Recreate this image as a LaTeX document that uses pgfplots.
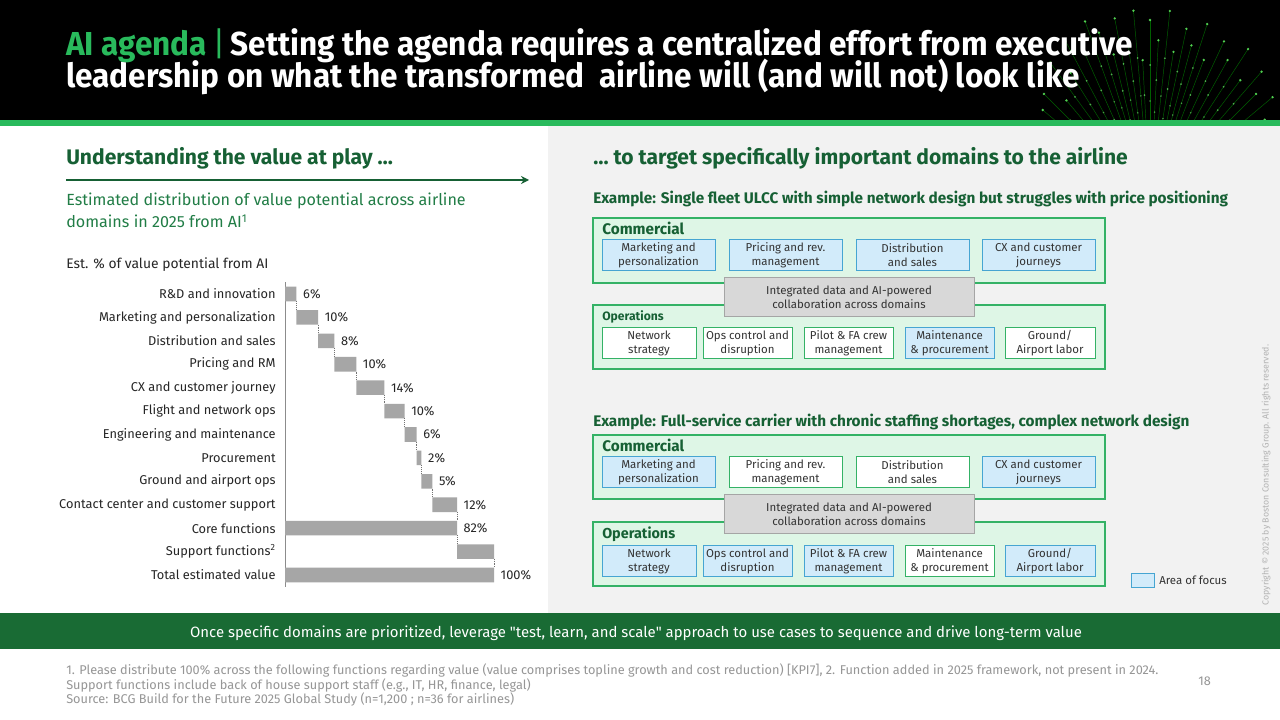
\documentclass[border=0pt]{standalone}
\usepackage{fontspec}
\setmainfont{Fira Sans}
\newfontfamily\titlefont[FakeStretch=0.95]{Fira Sans}
\newfontfamily\nomapfont[Ligatures=TeXOff]{Fira Sans}
\usepackage{pgfplots}
\pgfplotsset{compat=1.18}
\usetikzlibrary{arrows.meta,calc}
\definecolor{dkgreen}{RGB}{22,96,52}
\definecolor{brgreen}{RGB}{41,186,92}
\definecolor{midgreen}{RGB}{33,125,70}
\definecolor{banner}{RGB}{25,107,52}
\definecolor{panelgray}{RGB}{242,242,242}
\definecolor{mint}{RGB}{222,246,230}
\definecolor{mintline}{RGB}{52,178,102}
\definecolor{ltblue}{RGB}{210,235,250}
\definecolor{blueline}{RGB}{70,165,210}
\definecolor{boxgray}{RGB}{216,216,216}
\definecolor{boxgrayline}{RGB}{165,165,165}
\definecolor{bargray}{RGB}{166,166,166}
\definecolor{foot}{RGB}{150,150,150}
\newcommand\fs[2]{\fontsize{#1}{#2}\selectfont}
\newcommand\bx[6]{%
  \draw[#5] (#1,#2) rectangle (#3,#4);
  \node[align=center, font=\fs{8.6}{10.5}, text=black!80, inner sep=0] at ({(#1+#3)/2},{(#2+#4)/2+0.5}) {#6};}
\tikzset{focus/.style={fill=ltblue, draw=blueline, line width=0.6pt},
         plain/.style={fill=white, draw=mintline, line width=0.6pt},
         group/.style={fill=mint, draw=mintline, line width=0.8pt},
         integ/.style={fill=boxgray, draw=boxgrayline, line width=0.6pt}}
\begin{document}
\begin{tikzpicture}[x=0.75pt,y=-0.75pt]
\useasboundingbox (0,0) rectangle (1280,720);
\fill[white] (0,0) rectangle (1280,720);
\fill[black] (0,0) rectangle (1280,121);
% decorative fibre fan
\begin{scope}
\clip (950,0) rectangle (1280,121);
\foreach \t/\r in {-66/120,-62/110,-58/130,-55/120,-50/140,-45/150,-40/130,-36/170,-32/150,-28/180,-24/160,-20/190,-17/175,-14/150,-11/185,-8/160,-5/190,-3/140,0/180,3/160,6/190,9/150,12/175,15/160,18/185,21/150,25/175,29/160,33/180,37/150,41/170,45/150,50/160,55/140,60/130,66/120} {
  \draw[green!50!black, opacity=0.75, line width=0.35pt] (1150,200) -- ++({\r*sin(\t)},{-\r*cos(\t)});
  \fill[green!60!white, opacity=0.8] ($(1150,200)+({\r*sin(\t)},{-\r*cos(\t)})$) circle (1.3);
  \fill[green!50!white, opacity=0.6] ($(1150,200)+({0.75*\r*sin(\t)},{-0.75*\r*cos(\t)})$) circle (1);
  \fill[green!50!white, opacity=0.5] ($(1150,200)+({0.55*\r*sin(\t)},{-0.55*\r*cos(\t)})$) circle (0.9);
}
\end{scope}
\fill[brgreen] (0,120) rectangle (1280,126);
\fill[panelgray] (548,126) rectangle (1280,613);
\fill[banner] (0,613) rectangle (1280,649);
% title
\node[anchor=base west, inner sep=0, font=\titlefont\fs{24.9}{27}\bfseries, text=white] at (66,56)
  {\textcolor{brgreen}{AI agenda}\,\textcolor{brgreen}{\mdseries|}\,Setting the agenda requires a centralized effort from executive};
\node[anchor=base west, inner sep=0, font=\titlefont\fs{24.9}{27}\bfseries, text=white] at (66,88)
  {leadership on what the transformed\ \ airline will (and will not) look like};
% left panel
\node[anchor=base west, inner sep=0, font=\fs{15.8}{18}\bfseries, text=dkgreen] at (66,165) {Understanding the value at play \ldots};
\draw[dkgreen, line width=1.4pt, -{Stealth[length=6pt,width=6pt]}] (66,180) -- (529,180);
\node[anchor=base west, inner sep=0, font=\fs{12.1}{14}, text=midgreen] at (66,206) {Estimated distribution of value potential across airline};
\node[anchor=base west, inner sep=0, font=\fs{12.1}{14}, text=midgreen] at (66,228) {domains in 2025 from AI\textsuperscript{1}};
\node[anchor=base west, inner sep=0, font=\fs{10.4}{12}, text=black!85] at (66,268) {Est. \% of value potential from AI};
% waterfall
\coordinate (chartpos) at (285,282.3);
\begin{axis}[at={(chartpos)}, anchor=north west, scale only axis,
  width=156.75pt, height=228.3pt, xmin=0, xmax=100, ymin=-0.5, ymax=12.5,
  y dir=reverse, xbar stacked, bar width=10.9pt,
  axis x line=none, axis y line=left, y axis line style={-, draw=black!45, line width=0.5pt},
  ytick={0,...,12}, major tick length=0pt,
  yticklabels={R\&D and innovation, Marketing and personalization, Distribution and sales, Pricing and RM, CX and customer journey, Flight and network ops, Engineering and maintenance, Procurement, Ground and airport ops, Contact center and customer support, Core functions, Support functions\textsuperscript{2}, Total estimated value},
  yticklabel style={font=\fs{9.6}{11}, text=black!85, xshift=-3.5pt},
  clip=false]
\addplot[draw=none, fill=none, forget plot] coordinates {(0,0) (5.5,1) (15.9,2) (23.6,3) (34.1,4) (47.6,5) (57.2,6) (63.0,7) (65.3,8) (70.5,9) (0,10) (82.3,11) (0,12)};
\addplot[fill=bargray, draw=none]
  coordinates {(5.5,0) (10.4,1) (7.7,2) (10.5,3) (13.5,4) (9.6,5) (5.8,6) (2.3,7) (5.2,8) (11.8,9) (82.3,10) (17.7,11) (100,12)};
\end{axis}
\begin{axis}[at={(chartpos)}, anchor=north west, scale only axis,
  width=156.75pt, height=228.3pt, xmin=0, xmax=100, ymin=-0.5, ymax=12.5,
  y dir=reverse, hide axis, unbounded coords=jump, clip=false]
\addplot[black!55, densely dotted, line width=0.4pt] coordinates {
 (5.5,0.31) (5.5,0.69) (nan,nan) (15.9,1.31) (15.9,1.69) (nan,nan) (23.6,2.31) (23.6,2.69) (nan,nan)
 (34.1,3.31) (34.1,3.69) (nan,nan) (47.6,4.31) (47.6,4.69) (nan,nan) (57.2,5.31) (57.2,5.69) (nan,nan)
 (63.0,6.31) (63.0,6.69) (nan,nan) (65.3,7.31) (65.3,7.69) (nan,nan) (70.5,8.31) (70.5,8.69) (nan,nan)
 (82.3,9.31) (82.3,9.69) (nan,nan) (82.3,10.31) (82.3,10.69) (nan,nan) (100,11.31) (100,11.69)};
% value labels at the end of each bar
\addplot[draw=none, mark=none, point meta=explicit symbolic, nodes near coords,
  nodes near coords style={font=\fs{9.6}{11}, text=black!85, anchor=west, xshift=1.5pt}]
  coordinates {(5.5,0) [6\%] (15.9,1) [10\%] (23.6,2) [8\%] (34.1,3) [10\%] (47.6,4) [14\%] (57.2,5) [10\%] (63.0,6) [6\%] (65.3,7) [2\%] (70.5,8) [5\%] (82.3,9) [12\%] (82.3,10) [82\%] (100,12) [100\%]};
\end{axis}
% right panel
\node[anchor=base west, inner sep=0, font=\fs{15.8}{18}\bfseries, text=dkgreen] at (593,165) {\ldots\ to target specifically important domains to the airline};
\node[anchor=base west, inner sep=0, font=\fs{11.5}{13}\bfseries, text=dkgreen] at (593,204) {Example: Single fleet ULCC with simple network design but struggles with price positioning};
% example 1
\draw[group] (593,218) rectangle (1105,283);
\node[anchor=base west, inner sep=0, font=\fs{11.5}{13}\bfseries, text=dkgreen] at (602,234) {Commercial};
\bx{602}{239}{715}{270}{focus}{Marketing and\\personalization}
\bx{729}{239}{842}{270}{focus}{Pricing and rev.\\management}
\bx{856}{239}{969}{270}{focus}{Distribution\\and sales}
\bx{982}{239}{1095}{270}{focus}{CX and customer\\journeys}
\draw[group] (593,305) rectangle (1105,369);
\node[anchor=base west, inner sep=0, font=\fs{9.1}{11}\bfseries, text=dkgreen] at (602,320) {Operations};
\bx{602}{327}{696}{358}{plain}{Network\\strategy}
\bx{703}{327}{792}{358}{plain}{Ops control and\\disruption}
\bx{804}{327}{893}{358}{plain}{Pilot \& FA crew\\management}
\bx{905}{327}{994}{358}{focus}{Maintenance\\\& procurement}
\bx{1005}{327}{1095}{358}{plain}{Ground/\\Airport labor}
\bx{724}{277}{974}{316}{integ}{Integrated data and AI-powered\\collaboration across domains}
% example 2
\node[anchor=base west, inner sep=0, font=\fs{11.5}{13}\bfseries, text=dkgreen] at (593,426) {Example: Full-service carrier with chronic staffing shortages, complex network design};
\draw[group] (593,435) rectangle (1105,499);
\node[anchor=base west, inner sep=0, font=\fs{11.5}{13}\bfseries, text=dkgreen] at (602,451) {Commercial};
\bx{602}{456}{715}{487}{focus}{Marketing and\\personalization}
\bx{729}{456}{842}{487}{plain}{Pricing and rev.\\management}
\bx{856}{456}{969}{487}{plain}{Distribution\\and sales}
\bx{982}{456}{1095}{487}{focus}{CX and customer\\journeys}
\draw[group] (593,522) rectangle (1105,586);
\node[anchor=base west, inner sep=0, font=\fs{10.8}{12}\bfseries, text=dkgreen] at (602,538) {Operations};
\bx{602}{545}{696}{576}{focus}{Network\\strategy}
\bx{703}{545}{792}{576}{focus}{Ops control and\\disruption}
\bx{804}{545}{893}{576}{focus}{Pilot \& FA crew\\management}
\bx{905}{545}{994}{576}{plain}{Maintenance\\\& procurement}
\bx{1005}{545}{1095}{576}{focus}{Ground/\\Airport labor}
\bx{724}{494}{974}{533}{integ}{Integrated data and AI-powered\\collaboration across domains}
% legend
\draw[focus] (1131,573) rectangle (1154,587);
\node[anchor=base west, inner sep=0, font=\fs{8.6}{10}, text=black!80] at (1159,584) {Area of focus};
% copyright
\node[rotate=90, inner sep=0, font=\fs{6.6}{8}, text=black!30] at (1266,475) {Copyright \textcopyright{} 2025 by Boston Consulting Group. All rights reserved.};
% banner
\node[anchor=base, inner sep=0, font=\fs{11.2}{13}, text=white] at (636,637) {Once specific domains are prioritized, leverage {\nomapfont"}test, learn, and scale{\nomapfont"} approach to use cases to sequence and drive long-term value};
% footnotes
\node[anchor=base west, inner sep=0, font=\fs{9.55}{11}, text=foot] at (66,674) {1. Please distribute 100\% across the following functions regarding value (value comprises topline growth and cost reduction) [KPI7], 2. Function added in 2025 framework, not present in 2024.};
\node[anchor=base west, inner sep=0, font=\fs{9.55}{11}, text=foot] at (66,689) {Support functions include back of house support staff (e.g., IT, HR, finance, legal)};
\node[anchor=base west, inner sep=0, font=\fs{9.55}{11}, text=foot] at (66,703) {Source: BCG Build for the Future 2025 Global Study (n=1,200 ; n=36 for airlines)};
\node[anchor=base west, inner sep=0, font=\fs{9.55}{11}, text=foot] at (1198,685) {18};
\end{tikzpicture}
\end{document}
